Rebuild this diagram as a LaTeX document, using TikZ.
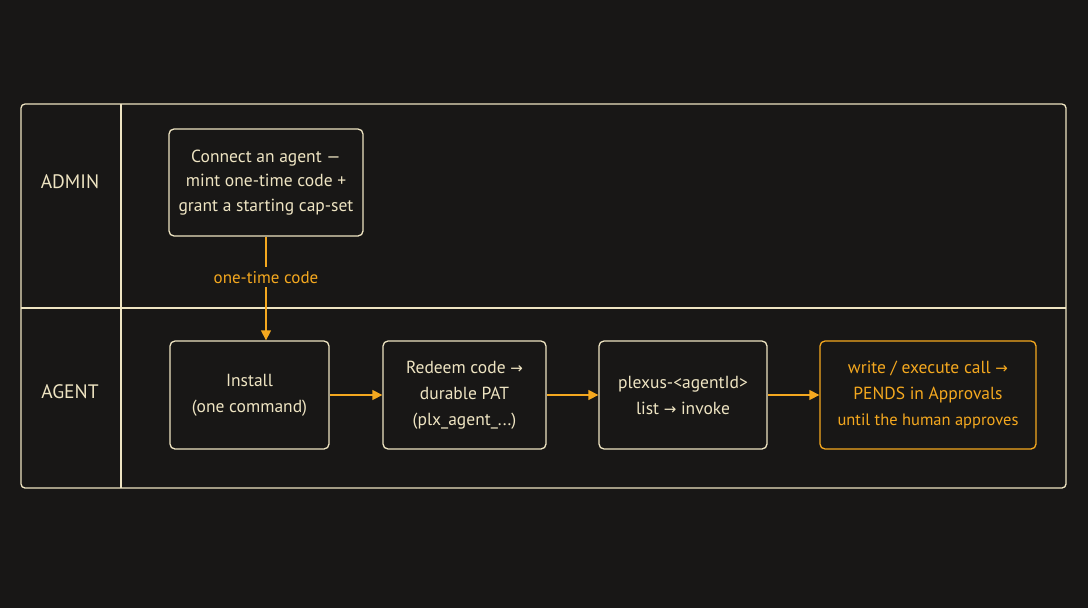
\documentclass[tikz,border=0pt]{standalone}
\usepackage{fontspec}
\setmainfont{PT Sans}
\newfontfamily\arrowfont{DejaVu Sans}
\usetikzlibrary{arrows.meta}
\definecolor{bgDark}{HTML}{181716}
\definecolor{lineCream}{HTML}{EEE4C2}
\definecolor{flowOrange}{HTML}{F4A81F}
\newcommand{\toArrow}{{\arrowfont\fontsize{15}{15}\selectfont →}}
\tikzset{
  stepbox/.style={draw=lineCream, line width=1.3pt, rounded corners=5pt, text=lineCream, align=center, font={\fontsize{17.5}{26}\selectfont}, inner sep=0pt},
  pendbox/.style={stepbox, draw=flowOrange, text=flowOrange},
  lanelabel/.style={text=lineCream, font={\fontsize{19.5}{20}\selectfont}},
  flow/.style={draw=flowOrange, line width=1.3pt, -{Triangle[length=10pt,width=10pt]}}
}
\begin{document}
\begin{tikzpicture}[x=1pt,y=-1pt]
\useasboundingbox[fill=bgDark] (0,0) rectangle (1088,608);
% lanes
\draw[lineCream, line width=1.3pt, rounded corners=4pt] (21,104) rectangle (1066,488);
\draw[lineCream, line width=1.3pt] (121,104) -- (121,488);
\draw[lineCream, line width=1.3pt] (21,308) -- (1066,308);
\node[lanelabel] (adminLane) at (70,182) {ADMIN};
\node[lanelabel] (agentLane) at (70,392) {AGENT};
% admin step
\node[stepbox, minimum width=194pt, minimum height=107pt, font={\fontsize{17.5}{24.5}\selectfont}] (connect) at (266,182.5) {\raisebox{-2pt}{\parbox{190pt}{\centering Connect an agent —\\mint one-time code +\\grant a starting cap-set}}};
% agent steps
\node[stepbox, minimum width=159pt, minimum height=108pt] (install) at (249.5,395) {\raisebox{-1pt}{\parbox{150pt}{\centering Install\\(one command)}}};
\node[stepbox, minimum width=163pt, minimum height=108pt] (redeem) at (464.5,395) {Redeem code \toArrow\\durable PAT\\(plx\_agent\_...)};
\node[stepbox, minimum width=168pt, minimum height=108pt] (invoke) at (683,395) {\raisebox{-1pt}{\parbox{160pt}{\centering plexus-<agentId>\\list \toArrow{} invoke}}};
\node[pendbox, minimum width=216pt, minimum height=108pt] (pends) at (928,395) {write / execute call \toArrow\\PENDS in Approvals\\{\fontsize{16.5}{26}\selectfont until the human approves}};
% connectors
\draw[flow] (connect.south) -- node[fill=bgDark, text=flowOrange, font={\fontsize{17}{18}\selectfont}, inner sep=4pt, pos=0.39] (codeLabel) {one-time code} (connect.south |- install.north);
\draw[flow] (install) -- (redeem);
\draw[flow] (redeem) -- (invoke);
\draw[flow] (invoke) -- (pends);
\end{tikzpicture}
\end{document}
